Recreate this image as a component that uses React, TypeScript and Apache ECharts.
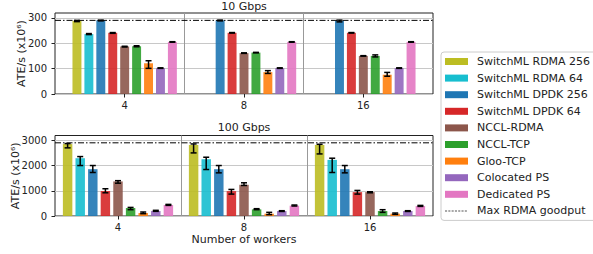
import React, { useEffect, useRef } from "react";
import * as echarts from "echarts";

const workers = ["4", "8", "16"];
const methods = [
  "SwitchML RDMA 256",
  "SwitchML RDMA 64",
  "SwitchML DPDK 256",
  "SwitchML DPDK 64",
  "NCCL-RDMA",
  "NCCL-TCP",
  "Gloo-TCP",
  "Colocated PS",
  "Dedicated PS",
];
const colors = ["#bcbd22", "#17becf", "#1f77b4", "#d62728", "#8c564b", "#2ca02c", "#ff7f0e", "#9467bd", "#e377c2"];
const goodputName = "Max RDMA goodput";

// 10 Gbps — rows: method, columns: 4, 8, 16 workers
const ate10: (number | null)[][] = [
  [288, null, null],
  [236, null, null],
  [290, 290, 288],
  [241, 241, 241],
  [187, 161, 150],
  [188, 163, 150],
  [121, 86, 76],
  [102, 102, 102],
  [205, 205, 205],
];
const low10: (number | null)[][] = [
  [285, null, null],
  [234, null, null],
  [288, 288, 284],
  [239, 240, 240],
  [185, 160, 149],
  [186, 162, 146],
  [101, 81, 70],
  [101, 101, 101],
  [204, 204, 204],
];
const high10: (number | null)[][] = [
  [290, null, null],
  [238, null, null],
  [291, 291, 291],
  [242, 242, 242],
  [188, 162, 151],
  [190, 164, 154],
  [131, 92, 85],
  [103, 103, 103],
  [206, 206, 206],
];

// 100 Gbps
const ate100: number[][] = [
  [2850, 2816, 2816],
  [2290, 2250, 2224],
  [1855, 1855, 1855],
  [990, 987, 947],
  [1370, 1237, 947],
  [315, 263, 197],
  [118, 92, 92],
  [200, 197, 197],
  [435, 408, 395],
];
const low100: number[][] = [
  [2700, 2500, 2460],
  [2000, 1842, 1724],
  [1724, 1710, 1710],
  [920, 868, 868],
  [1300, 1210, 920],
  [250, 250, 145],
  [92, 55, 65],
  [185, 180, 180],
  [420, 395, 380],
];
const high100: number[][] = [
  [2870, 2855, 2842],
  [2355, 2329, 2290],
  [2000, 2000, 2000],
  [1080, 1053, 1013],
  [1400, 1316, 960],
  [340, 290, 250],
  [158, 145, 118],
  [225, 210, 210],
  [460, 435, 420],
];

const goodput10 = 290;
const goodput100 = 2900;
const yMax10 = 319;
const yMax100 = 3190;
const yStep10 = 100;
const yStep100 = 1000;

const FONT = "DejaVu Sans";
const INK = "#222";

// dashed-line legend icon (tiny corner marks fix the icon's box to 23x7)
const dashIcon = (() => {
  let d = "path://M0,0h0.01v0.01h-0.01zM23,7h0.01v0.01h-0.01z";
  for (let x = 0; x < 23; x += 3.3) {
    d += `M${x.toFixed(2)},3h2.1v1.1h-2.1z`;
  }
  return d;
})();

function errorRows(lo: (number | null)[][], hi: (number | null)[][]) {
  const rows: number[][] = [];
  lo.forEach((row, m) => {
    row.forEach((l, c) => {
      const h = hi[m][c];
      if (l != null && h != null) rows.push([c, m, l, h]);
    });
  });
  return rows;
}

const renderErr = (params: any, api: any) => {
  const cat = api.value(0);
  const idx = api.value(1);
  const lo = api.value(2);
  const hi = api.value(3);
  const band = api.size([1, 0])[0];
  const pTop = api.coord([cat, hi]);
  const pBot = api.coord([cat, lo]);
  const x = pTop[0] + (idx - 4) * band * 0.1;
  const cap = 3;
  const style = { stroke: "#000", lineWidth: 1.5 };
  return {
    type: "group",
    children: [
      { type: "line", shape: { x1: x, y1: pTop[1], x2: x, y2: pBot[1] }, style },
      { type: "line", shape: { x1: x - cap, y1: pTop[1], x2: x + cap, y2: pTop[1] }, style },
      { type: "line", shape: { x1: x - cap, y1: pBot[1], x2: x + cap, y2: pBot[1] }, style },
    ],
  };
};

function buildOption() {
  const panels = [
    { vals: ate10, lo: low10, hi: high10, g: goodput10, max: yMax10, step: yStep10, nameGap: 28 },
    { vals: ate100, lo: low100, hi: high100, g: goodput100, max: yMax100, step: yStep100, nameGap: 34.5 },
  ];
  const grids = [
    { left: 55, top: 13, width: 378, height: 81, show: true, borderColor: INK, borderWidth: 1, backgroundColor: "transparent", outerBoundsMode: "none", containLabel: false },
    { left: 65, top: 13, width: 358, height: 81, outerBoundsMode: "none", containLabel: false },
    { left: 55, top: 135.5, width: 378, height: 80.5, show: true, borderColor: INK, borderWidth: 1, backgroundColor: "transparent", outerBoundsMode: "none", containLabel: false },
    { left: 55, top: 135.5, width: 378, height: 80.5, outerBoundsMode: "none", containLabel: false },
  ];
  const xAxis: any[] = [];
  const yAxis: any[] = [];
  const series: any[] = [];
  panels.forEach((p, pi) => {
    const fg = pi * 2;
    const bg = pi * 2 + 1;
    xAxis.push({ gridIndex: fg, type: "value", min: 0, max: 1, show: false });
    xAxis.push({
      gridIndex: bg,
      type: "category",
      data: workers,
      axisLine: { show: false },
      axisTick: { show: true, alignWithLabel: true, length: 3.5, lineStyle: { color: INK } },
      axisLabel: { fontSize: 10, color: INK, margin: 6, fontFamily: FONT },
      splitLine: { show: true, showMinLine: false, showMaxLine: false, lineStyle: { color: "#999", width: 1 } },
      ...(pi === 1
        ? { name: "Number of workers", nameLocation: "middle", nameGap: 18, nameMoveOverlap: false, nameTextStyle: { fontSize: 11, color: INK, fontFamily: FONT } }
        : {}),
    });
    yAxis.push({
      gridIndex: fg,
      type: "value",
      min: 0,
      max: p.max,
      interval: p.step,
      name: "ATE/s (x10⁶)",
      nameLocation: "middle",
      nameGap: p.nameGap,
      nameMoveOverlap: false,
      nameTextStyle: { fontSize: 11, color: INK, fontFamily: FONT },
      axisLine: { show: false },
      axisTick: { show: true, length: 3.5, lineStyle: { color: INK } },
      axisLabel: { fontSize: 10, color: INK, margin: 8, showMaxLabel: false, fontFamily: FONT, formatter: (v: number) => String(v) },
      splitLine: { show: true, showMaxLine: false, lineStyle: { color: "#c8c8c8", width: 1 } },
    });
    yAxis.push({ gridIndex: bg, type: "value", min: 0, max: p.max, show: false });

    methods.forEach((m, i) => {
      series.push({
        name: m,
        type: "bar",
        xAxisIndex: bg,
        yAxisIndex: bg,
        data: p.vals[i].map((v) => (v == null ? "-" : v)),
        barWidth: "7.5%",
        barGap: "33.3%",
        itemStyle: { color: colors[i], opacity: 0.9 },
        z: 3,
      });
    });
    series.push({
      name: goodputName,
      type: "line",
      xAxisIndex: fg,
      yAxisIndex: fg,
      data: [
        [0, p.g],
        [1, p.g],
      ],
      symbol: "none",
      lineStyle: { color: "#000", width: 1, type: [6, 2, 1.5, 2] },
      z: 5,
    });
    series.push({
      type: "custom",
      xAxisIndex: bg,
      yAxisIndex: bg,
      data: errorRows(p.lo, p.hi),
      renderItem: renderErr,
      silent: true,
      z: 6,
    });
  });

  return {
    animation: false,
    textStyle: { fontFamily: FONT },
    grid: grids,
    xAxis,
    yAxis,
    series,
    legend: {
      orient: "vertical",
      left: 441,
      top: 52,
      padding: [3, 10, 3, 4],
      itemGap: 3.6,
      itemWidth: 23,
      itemHeight: 7,
      symbolKeepAspect: false,
      borderColor: "#ccc",
      borderWidth: 1,
      borderRadius: 3,
      backgroundColor: "#fff",
      selectedMode: false,
      textStyle: { fontSize: 11, color: INK, lineHeight: 13, fontFamily: FONT, padding: [0, 0, 0, 4] },
      data: [
        ...methods.map((m, i) => ({ name: m, icon: "rect", itemStyle: { color: colors[i], opacity: 1 } })),
        { name: goodputName, icon: dashIcon, itemStyle: { color: "#555", opacity: 1 } },
      ],
    },
    graphic: [
      { type: "text", x: 244, y: 6, style: { text: "10 Gbps", fontSize: 11, fill: INK, align: "center", verticalAlign: "middle", fontFamily: FONT } },
      { type: "text", x: 244, y: 127.5, style: { text: "100 Gbps", fontSize: 11, fill: INK, align: "center", verticalAlign: "middle", fontFamily: FONT } },
    ],
  };
}

export default function App() {
  const ref = useRef<HTMLDivElement>(null);
  useEffect(() => {
    if (!ref.current) return;
    const chart = echarts.init(ref.current, null, { renderer: "svg" });
    chart.setOption(buildOption() as any);
    return () => chart.dispose();
  }, []);
  return <div ref={ref} style={{ position: "fixed", left: 0, top: 0, width: 593, height: 254, background: "#fff" }} />;
}
